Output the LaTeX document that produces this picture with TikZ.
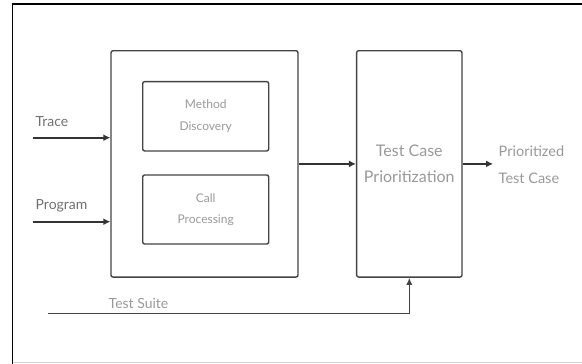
\documentclass[tikz,border=0pt]{standalone}
\usepackage{fontspec}
\setmainfont{Lato}
\usetikzlibrary{arrows.meta}
\definecolor{boxline}{HTML}{444444}
\definecolor{arrowc}{HTML}{333333}
\definecolor{lbl}{HTML}{707070}
\definecolor{inlbl}{HTML}{999999}
\definecolor{framegrey}{HTML}{D0D0D0}
\tikzset{
  blk/.style={draw=boxline, line width=1.4pt, rounded corners=2pt, inner sep=0pt},
  arr/.style={draw=arrowc, line width=2pt, -{Latex[length=7pt,width=7pt]}},
  thinarr/.style={draw=boxline, line width=1.3pt, -{Latex[length=7pt,width=6pt]}},
  lab/.style={text=lbl, inner sep=0pt, font=\fontsize{14}{16}\selectfont},
}
\begin{document}
\begin{tikzpicture}[x=1pt,y=-1pt]
\useasboundingbox (0,0) rectangle (582,364);
% frame
\draw[black, line width=1.4pt] (12.7,364) -- (12.7,4) -- (582,4);
\draw[framegrey, line width=1pt] (12.7,362.7) -- (582,362.7);
% blocks
\node[blk, minimum width=187pt, minimum height=226.3pt] (big) at (204.5,163.9) {};
\node[blk, minimum width=126pt, minimum height=69.3pt, align=center, text=inlbl,
  font=\fontsize{12}{22}\selectfont] (md) at (205.7,116.3) {Method\\Discovery};
\node[blk, minimum width=126pt, minimum height=69pt, align=center, text=inlbl,
  font=\fontsize{12}{21.5}\selectfont] (cp) at (205.7,209.5) {Call\\Processing};
\node[blk, minimum width=105.3pt, minimum height=226.3pt, align=center, text=inlbl,
  font=\fontsize{16}{26.7}\selectfont] (tcp) at (409.3,163.9) {Test Case\\Prioritization};
% inputs
\coordinate (tr) at (33,137.7);
\coordinate (pg) at (33,221.7);
\node[lab, anchor=west] (trl) at (35.5,121.7) {Trace};
\node[lab, anchor=west] (pgl) at (35.5,205.7) {Program};
\draw[arr] (tr) -- (tr -| big.west);
\draw[arr] (pg) -- (pg -| big.west);
% middle
\draw[arr] (big.east) -- (tcp.west);
% output
\coordinate (oe) at (493,163.9);
\draw[arr] (tcp.east) -- (oe);
\node[lab, anchor=west, align=left, text=inlbl, font=\fontsize{14.5}{27}\selectfont] (out) at (498.5,164.5) {Prioritized\\Test Case};
% test suite
\coordinate (ts) at (47.7,313.5);
\draw[thinarr] (ts) -| (tcp.south);
\node[lab, text=inlbl, font=\fontsize{14}{16}\selectfont] (tsl) at (138.5,303.3) {Test Suite};
\end{tikzpicture}
\end{document}
